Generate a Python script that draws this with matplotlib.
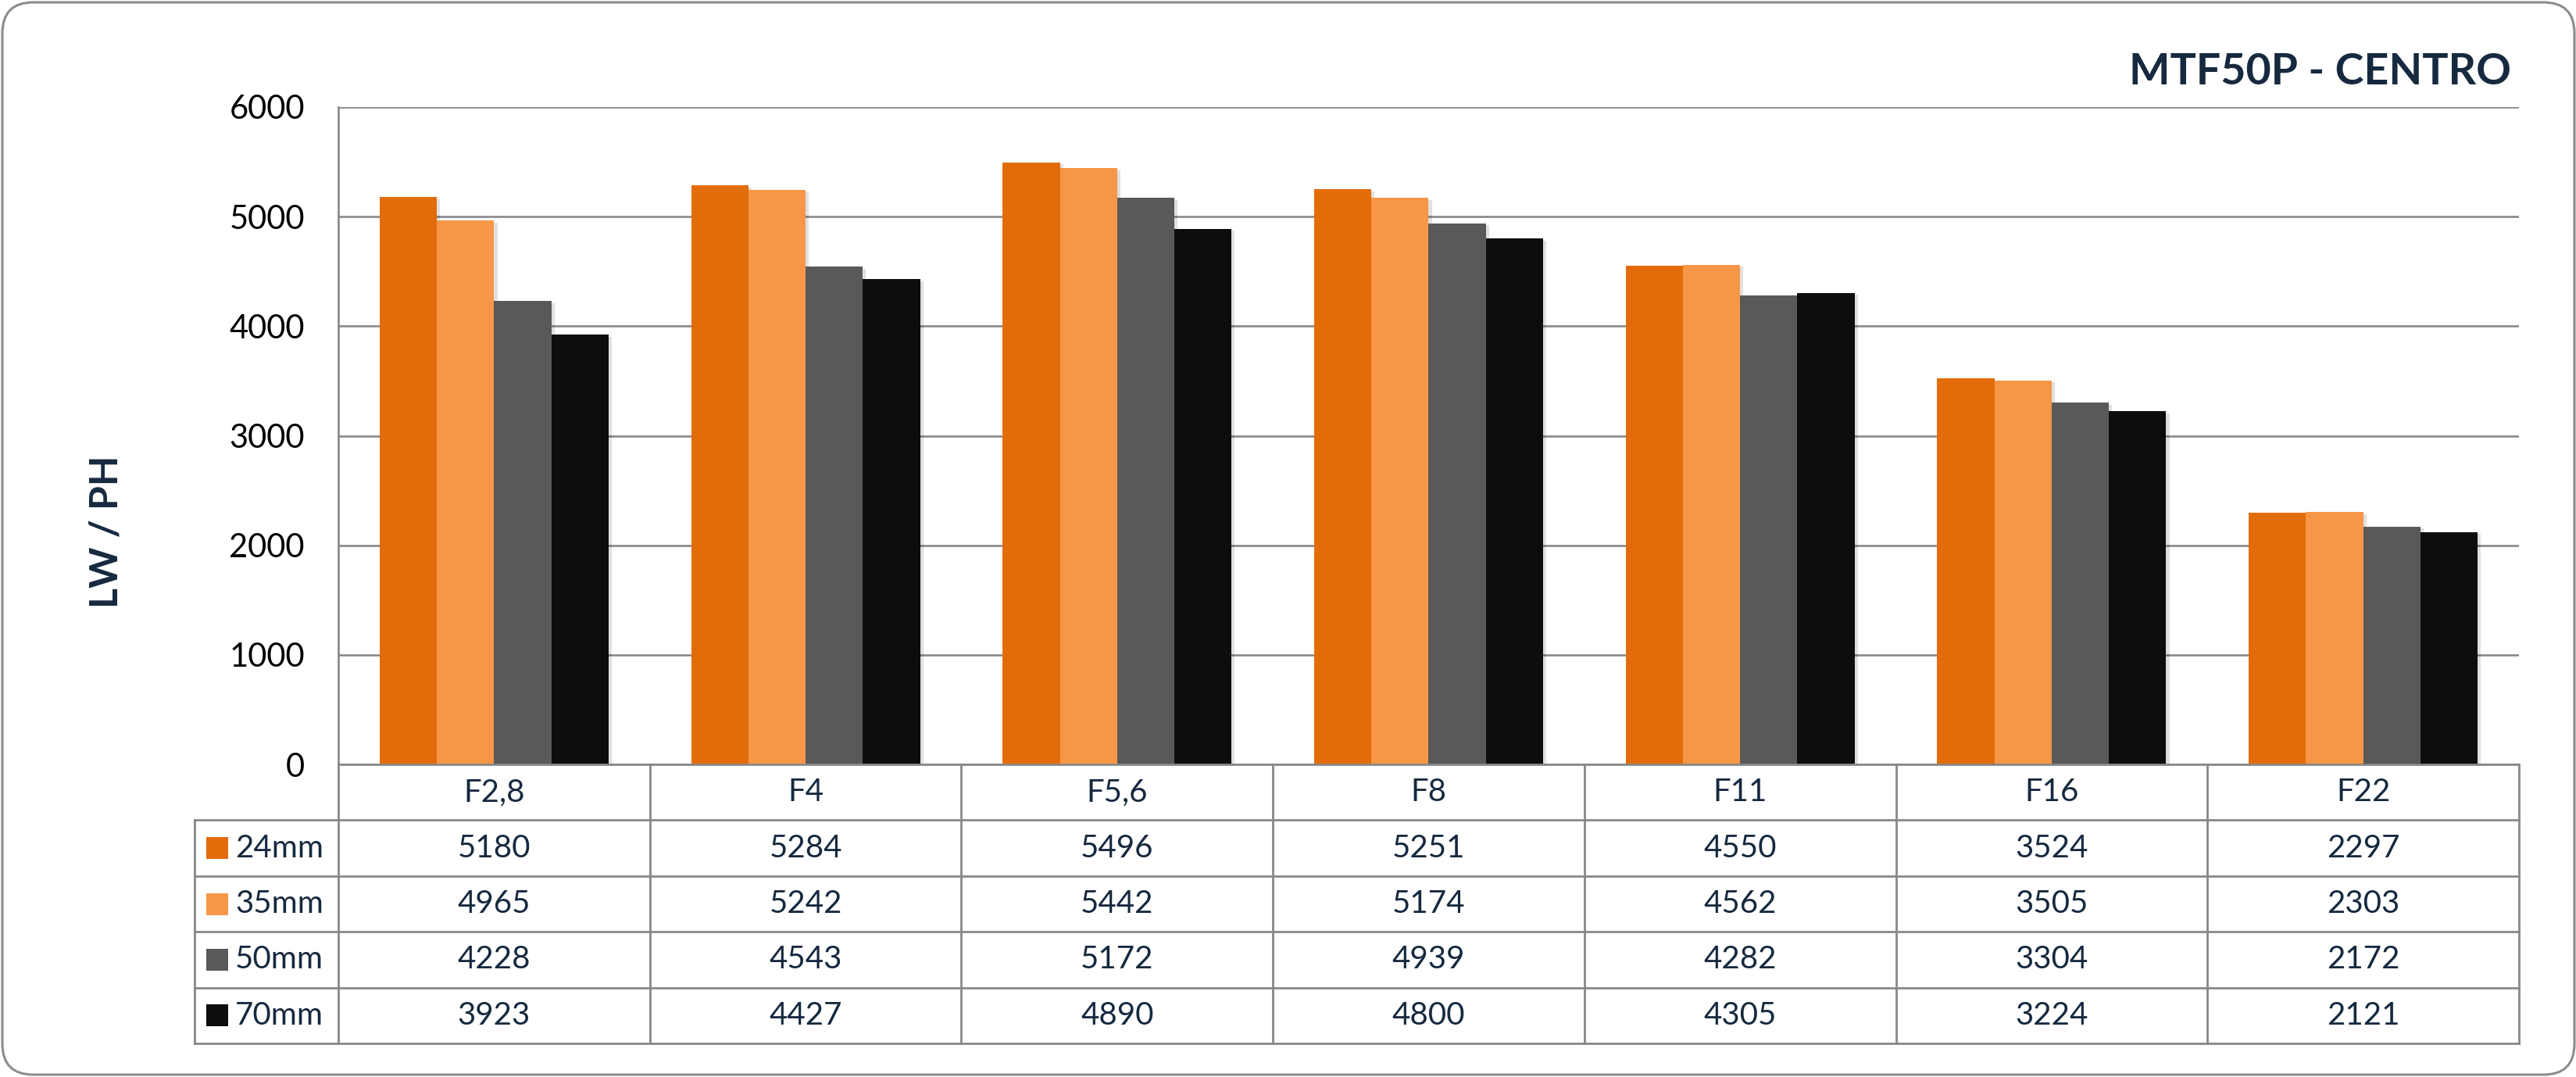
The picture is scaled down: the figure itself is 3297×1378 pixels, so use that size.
import matplotlib
matplotlib.use("Agg")
import matplotlib.pyplot as plt
import matplotlib.patheffects as pe
from matplotlib.patches import FancyBboxPatch, Rectangle
import numpy as np

categories = ["F2,8", "F4", "F5,6", "F8", "F11", "F16", "F22"]
series_names = ["24mm", "35mm", "50mm", "70mm"]
v24 = [5180, 5284, 5496, 5251, 4550, 3524, 2297]
v35 = [4965, 5242, 5442, 5174, 4562, 3505, 2303]
v50 = [4228, 4543, 5172, 4939, 4282, 3304, 2172]
v70 = [3923, 4427, 4890, 4800, 4305, 3224, 2121]
yticks = [0, 1000, 2000, 3000, 4000, 5000, 6000]
title = "MTF50P - CENTRO"
ylabel = "LW / PH"

series = [v24, v35, v50, v70]
colors = ["#E36C0A", "#F79646", "#595959", "#0D0D0D"]
navy = "#16293F"
grid_c = "#888888"
FONT = "Lato"

W, H = 3298, 1378
DPI = 100
fig = plt.figure(figsize=(W / DPI, H / DPI), dpi=DPI)
fig.patch.set_facecolor("white")

def px(x, y):
    return x / W, 1 - y / H

L, R, T, B = 433, 3224, 137, 978
ax = fig.add_axes([L / W, 1 - B / H, (R - L) / W, (B - T) / H])
n = len(categories)
x = np.arange(n)
bw = 0.1837
shadow = [pe.SimplePatchShadow(offset=(3, -2), shadow_rgbFace="#000000", alpha=0.12), pe.Normal()]
for i, (vals, c) in enumerate(zip(series, colors)):
    bars = ax.bar(x + (i - 1.5) * bw, vals, width=bw, color=c, zorder=3, linewidth=0)
    for b in bars:
        b.set_path_effects(shadow)
ax.set_xlim(-0.5, n - 0.5)
ax.set_ylim(0, 6000)
ax.set_yticks(yticks)
ax.set_yticklabels([str(t) for t in yticks], fontsize=30, fontfamily=FONT, color="#000000")
ax.tick_params(axis="y", length=0, pad=31)
ax.set_xticks([])
ax.grid(axis="y", color=grid_c, linewidth=1.9, zorder=0)
for s in ["top", "right", "bottom"]:
    ax.spines[s].set_visible(False)
ax.spines["left"].set_color(grid_c)
ax.spines["left"].set_linewidth(1.9)

# Table axes below the chart
TB = 1335
tax = fig.add_axes([L / W, 1 - TB / H, (R - L) / W, (TB - B) / H])
tax.set_xlim(-0.5, n - 0.5)
tax.set_ylim(5, 0)
tax.axis("off")
unit = (R - L) / n
leg_left = -0.5 - (L - 249) / unit
lw_t = 2.0
kw = dict(color=grid_c, linewidth=lw_t, clip_on=False, solid_capstyle="projecting")
tax.plot([-0.5, n - 0.5], [0, 0], **kw)
for r in range(1, 6):
    tax.plot([leg_left, n - 0.5], [r, r], **kw)
tax.plot([leg_left, leg_left], [1, 5], **kw)
for k in range(n + 1):
    tax.plot([-0.5 + k, -0.5 + k], [0, 5], **kw)
TFS = 29
for j, cat in enumerate(categories):
    tax.text(j, 0.5, cat, ha="center", va="center", fontsize=TFS, fontfamily=FONT, color=navy)
sq_w = 28 / unit
sq_x = -0.5 - (L - 264) / unit
txt_x = -0.5 - (L - 301) / unit
for i, (name, vals, c) in enumerate(zip(series_names, series, colors)):
    row = i + 1
    sq_h = 28 / ((TB - B) / 5)
    tax.add_patch(Rectangle((sq_x, row + 0.5 - sq_h / 2), sq_w, sq_h, facecolor=c, edgecolor="none", clip_on=False))
    tax.text(txt_x, row + 0.5, name, ha="left", va="center", fontsize=TFS, fontfamily=FONT, color=navy, clip_on=False)
    for j, v in enumerate(vals):
        tax.text(j, row + 0.5, str(v), ha="center", va="center", fontsize=TFS, fontfamily=FONT, color=navy)

# Title and y label
fig.text(*px(3214, 92), title, ha="right", va="center", fontsize=40, fontweight="bold", fontfamily=FONT, color=navy)
fig.text(*px(136, 680), ylabel, ha="center", va="center", rotation=90, fontsize=36, fontweight="bold", fontfamily=FONT, color=navy)

# Rounded outer border
border = FancyBboxPatch((3 / W, 3 / H), (W - 6) / W, (H - 6) / H,
                        boxstyle="round,pad=0,rounding_size=0.012", transform=fig.transFigure,
                        facecolor="none", edgecolor="#8C8C8C", linewidth=2.2, mutation_aspect=W / H)
fig.add_artist(border)

fig.savefig("out.png", dpi=DPI, facecolor="white")
